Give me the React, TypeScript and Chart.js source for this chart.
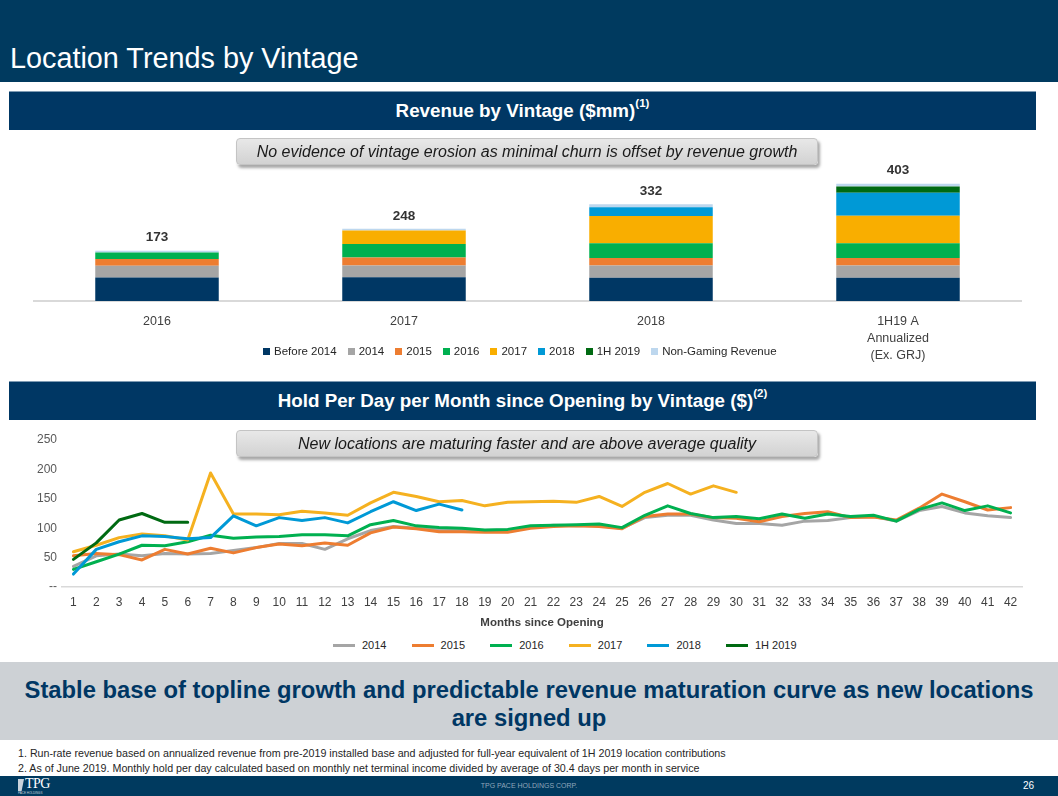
import React, { useEffect, useRef } from 'react';
import { Chart, registerables } from 'chart.js';

Chart.register(...registerables);

const SANS = "'Liberation Sans', Arial, Helvetica, sans-serif";

// ---------- Revenue by Vintage ($mm) ----------
const barCategories = ['2016', '2017', '2018', ['1H19 A', 'Annualized', '(Ex. GRJ)']];
const revBefore2014 = [81, 82, 80, 80];
const rev2014 = [40, 40, 42, 42];
const rev2015 = [23, 27, 26, 26];
const rev2016 = [23, 47, 50, 50];
const rev2017 = [null, 46, 94, 95];
const rev2018 = [null, null, 30, 79];
const rev1H2019 = [null, null, null, 21];
const revNonGaming = [6, 6, 10, 10];

const barSeriesLabels = ['Before 2014', '2014', '2015', '2016', '2017', '2018', '1H 2019', 'Non-Gaming Revenue'];
const barSeriesColors = ['#003764', '#A5A5A5', '#ED7D31', '#00B050', '#F9AE00', '#0099D6', '#006A12', '#BDD7EE'];
const barSeriesData = [revBefore2014, rev2014, rev2015, rev2016, rev2017, rev2018, rev1H2019, revNonGaming];

// ---------- Hold Per Day per Month since Opening ($) ----------
const monthLabels = ['1', '2', '3', '4', '5', '6', '7', '8', '9', '10', '11', '12', '13', '14', '15', '16', '17', '18', '19', '20', '21',
  '22', '23', '24', '25', '26', '27', '28', '29', '30', '31', '32', '33', '34', '35', '36', '37', '38', '39', '40', '41', '42'];

const hold2014 = [35, 53, 56, 53, 57, 56, 57, 62, 67, 74, 74, 64, 82, 96, 103, 100, 97, 97, 96, 97, 102,
  105, 104, 104, 100, 118, 122, 122, 114, 108, 108, 105, 112, 113, 118, 120, 112, 130, 137, 126, 121, 118];
const hold2015 = [53, 57, 55, 46, 64, 56, 66, 58, 67, 73, 70, 75, 71, 92, 102, 99, 94, 94, 93, 93, 100,
  103, 104, 103, 99, 120, 124, 124, 118, 117, 111, 120, 125, 128, 118, 119, 114, 134, 158, 145, 131, 135];
const hold2016 = [30, 43, 56, 71, 70, 77, 88, 83, 85, 86, 89, 89, 87, 106, 113, 104, 101, 100, 97, 98, 104,
  105, 106, 107, 101, 122, 138, 125, 118, 120, 116, 124, 117, 124, 120, 122, 112, 132, 143, 130, 138, 126];
const hold2017 = [60, 71, 84, 90, 87, 80, 194, 124, 124, 123, 129, 126, 122, 143, 161, 154, 145, 147, 138, 144, 145,
  146, 144, 154, 137, 161, 176, 158, 172, 161];
const hold2018 = [22, 64, 77, 87, 86, 82, 84, 121, 104, 118, 113, 118, 109, 128, 145, 130, 141, 131];
const hold1H2019 = [47, 75, 114, 125, 110, 110];

const lineSeriesLabels = ['2014', '2015', '2016', '2017', '2018', '1H 2019'];
const lineSeriesColors = ['#A5A5A5', '#ED7D31', '#00B050', '#F5B120', '#0099D6', '#006A12'];
const lineSeriesData = [hold2014, hold2015, hold2016, hold2017, hold2018, hold1H2019];

const yTickValues = [0, 50, 100, 150, 200, 250];

function RevenueChart() {
  const ref = useRef<HTMLCanvasElement>(null);
  useEffect(() => {
    if (!ref.current) return;
    const totalsPlugin = {
      id: 'totals',
      afterDatasetsDraw(chart: any) {
        const { ctx } = chart;
        const xs = chart.scales.x;
        const ys = chart.scales.y;
        ctx.save();
        ctx.font = `bold 13.5px ${SANS}`;
        ctx.fillStyle = '#333333';
        ctx.textAlign = 'center';
        ctx.textBaseline = 'middle';
        barCategories.forEach((_, i) => {
          const total = barSeriesData.reduce((s, arr) => s + ((arr[i] as number) ?? 0), 0);
          ctx.fillText(String(total), xs.getPixelForValue(i), ys.getPixelForValue(total) - 13);
        });
        ctx.restore();
      },
    };
    const chart = new Chart(ref.current, {
      type: 'bar',
      data: {
        labels: barCategories as any,
        datasets: barSeriesData.map((d, i) => ({
          label: barSeriesLabels[i],
          data: d as any,
          backgroundColor: barSeriesColors[i],
          borderWidth: 0,
          barPercentage: 0.5,
          categoryPercentage: 1,
        })),
      },
      options: {
        responsive: false,
        animation: false,
        layout: { padding: { left: 33.5, right: 36.5, top: 20, bottom: 0 } },
        plugins: { legend: { display: false }, tooltip: { enabled: false } },
        scales: {
          x: {
            stacked: true,
            grid: { display: false, drawTicks: false },
            border: { display: true, color: '#D9D9D9', width: 2 },
            ticks: { color: '#404040', font: { family: SANS, size: 12.5, lineHeight: 1.36 }, padding: 12, maxRotation: 0, autoSkip: false },
            afterFit: (s: any) => { s.height = 64; },
          },
          y: { stacked: true, display: false, min: 0, max: 450 },
        },
      },
      plugins: [totalsPlugin],
    });
    return () => chart.destroy();
  }, []);
  return <canvas ref={ref} width={1058} height={215} style={{ position: 'absolute', left: 0, top: 150 }} />;
}

function HoldChart() {
  const ref = useRef<HTMLCanvasElement>(null);
  useEffect(() => {
    if (!ref.current) return;
    const order = [6, 5, 4, 3, 2, 1];
    const chart = new Chart(ref.current, {
      type: 'line',
      data: {
        labels: monthLabels,
        datasets: lineSeriesData.map((d, i) => ({
          label: lineSeriesLabels[i],
          data: d,
          borderColor: lineSeriesColors[i],
          backgroundColor: lineSeriesColors[i],
          borderWidth: 3,
          pointRadius: 0,
          tension: 0,
          borderJoinStyle: 'round' as const,
          borderCapStyle: 'round' as const,
          order: order[i],
        })),
      },
      options: {
        responsive: false,
        animation: false,
        layout: { padding: { left: 0, right: 36, top: 15, bottom: 0 } },
        plugins: { legend: { display: false }, tooltip: { enabled: false } },
        scales: {
          x: {
            offset: true,
            grid: { display: false, drawTicks: false },
            border: { display: true, color: '#D9D9D9', width: 1.5 },
            ticks: { color: '#404040', font: { family: SANS, size: 12 }, padding: 8, maxRotation: 0, autoSkip: false },
            title: { display: true, text: 'Months since Opening', color: '#404040', font: { family: SANS, size: 11.5, weight: 'bold' }, padding: { top: 0, bottom: 5 } },
            afterFit: (s: any) => { s.height = 48; },
          },
          y: {
            min: 0,
            max: 250,
            grid: { display: false, drawTicks: false },
            border: { display: false },
            afterBuildTicks: (s: any) => { s.ticks = yTickValues.map((v) => ({ value: v })); },
            ticks: {
              color: '#595959',
              font: { family: SANS, size: 12 },
              padding: 5,
              callback: (v: any) => (Number(v) === 0 ? '--' : String(v)),
            },
            afterFit: (s: any) => { s.width = 62; },
          },
        },
      },
    });
    return () => chart.destroy();
  }, []);
  return <canvas ref={ref} width={1058} height={210} style={{ position: 'absolute', left: 0, top: 425 }} />;
}

const band: React.CSSProperties = {
  position: 'absolute', left: 9, width: 1027, height: 39, background: '#003764',
  color: '#fff', fontFamily: SANS, fontWeight: 'bold', fontSize: 18.8, display: 'flex',
  alignItems: 'center', justifyContent: 'center', boxSizing: 'border-box', borderTop: '1px solid #7f9bb3',
};

const callout: React.CSSProperties = {
  position: 'absolute', left: 236, width: 582, height: 27, borderRadius: 4,
  background: 'linear-gradient(#e8e8e8, #d2d2d2)', boxShadow: '2px 3px 3px rgba(0,0,0,0.35)',
  border: '1px solid #c4c4c4', boxSizing: 'border-box', display: 'flex', alignItems: 'center',
  justifyContent: 'center', fontFamily: SANS, fontStyle: 'italic', fontSize: 16, color: '#1a1a1a', whiteSpace: 'nowrap',
};

export default function App() {
  return (
    <div style={{ position: 'absolute', left: 0, top: 0, width: 1058, height: 796, overflow: 'hidden', background: '#fff', fontFamily: SANS }}>
      <div style={{ position: 'absolute', left: 0, top: 0, width: 1058, height: 82, background: '#003A5F' }}>
        <div style={{ position: 'absolute', left: 10, top: 42, fontSize: 28.8, lineHeight: '32px', color: '#fff', whiteSpace: 'nowrap' }}>
          Location Trends by Vintage
        </div>
      </div>

      <div style={{ ...band, top: 91 }}>
        <span>Revenue by Vintage ($mm)<sup style={{ fontSize: 11.5, verticalAlign: 'top', position: 'relative', top: -3 }}>(1)</sup></span>
      </div>

      <RevenueChart />
      <div style={{ ...callout, top: 138 }}>No evidence of vintage erosion as minimal churn is offset by revenue growth</div>

      <div style={{ position: 'absolute', left: 263, top: 345, display: 'flex', alignItems: 'center', fontSize: 11.5, color: '#262626', whiteSpace: 'nowrap' }}>
        {barSeriesLabels.map((l, i) => (
          <div key={l} style={{ display: 'flex', alignItems: 'center', marginRight: 11 }}>
            <div style={{ width: 7, height: 7, background: barSeriesColors[i], marginRight: 4 }} />
            <span>{l}</span>
          </div>
        ))}
      </div>

      <div style={{ ...band, top: 381 }}>
        <span>Hold Per Day per Month since Opening by Vintage ($)<sup style={{ fontSize: 11.5, verticalAlign: 'top', position: 'relative', top: -3 }}>(2)</sup></span>
      </div>

      <HoldChart />
      <div style={{ ...callout, top: 430 }}>New locations are maturing faster and are above average quality</div>

      <div style={{ position: 'absolute', left: 333, top: 639, display: 'flex', alignItems: 'center', fontSize: 11, color: '#262626', whiteSpace: 'nowrap' }}>
        {lineSeriesLabels.map((l, i) => (
          <div key={l} style={{ display: 'flex', alignItems: 'center', width: 78.6 }}>
            <div style={{ width: 22, height: 3, background: lineSeriesColors[i], marginRight: 7 }} />
            <span>{l}</span>
          </div>
        ))}
      </div>

      <div style={{ position: 'absolute', left: 0, top: 662, width: 1058, height: 78, paddingTop: 6, boxSizing: 'border-box', background: '#CDD1D5', display: 'flex', alignItems: 'center', justifyContent: 'center', textAlign: 'center', color: '#003764', fontWeight: 'bold', fontSize: 23.8, lineHeight: '28px', whiteSpace: 'nowrap' }}>
        <div>Stable base of topline growth and predictable revenue maturation curve as new locations<br />are signed up</div>
      </div>

      <div style={{ position: 'absolute', left: 18, top: 746, fontSize: 10.7, lineHeight: '15px', color: '#262626', whiteSpace: 'nowrap' }}>
        <div>1. Run-rate revenue based on annualized revenue from pre-2019 installed base and adjusted for full-year equivalent of 1H 2019 location contributions</div>
        <div>2. As of June 2019. Monthly hold per day calculated based on monthly net terminal income divided by average of 30.4 days per month in service</div>
      </div>

      <div style={{ position: 'absolute', left: 0, top: 776, width: 1058, height: 20, background: '#003A5F' }}>
        <div style={{ position: 'absolute', left: 18, top: 3, width: 6, height: 12, background: '#c9d3dc', clipPath: 'polygon(0 0, 100% 0, 60% 100%, 0 100%)' }} />
        <div style={{ position: 'absolute', left: 25, top: 1, fontFamily: "'Liberation Serif', serif", fontSize: 14, lineHeight: '14px', color: '#fff', letterSpacing: -0.5 }}>TPG</div>
        <div style={{ position: 'absolute', left: 18, top: 15, fontSize: 3, lineHeight: '4px', color: '#c9d3dc', whiteSpace: 'nowrap' }}>PACE HOLDINGS</div>
        <div style={{ position: 'absolute', left: 0, width: 1058, top: 5, textAlign: 'center', fontSize: 7, lineHeight: '9px', color: '#8fa6bb' }}>TPG PACE HOLDINGS CORP.</div>
        <div style={{ position: 'absolute', right: 24, top: 4, fontSize: 10, lineHeight: '12px', color: '#fff' }}>26</div>
      </div>
    </div>
  );
}
